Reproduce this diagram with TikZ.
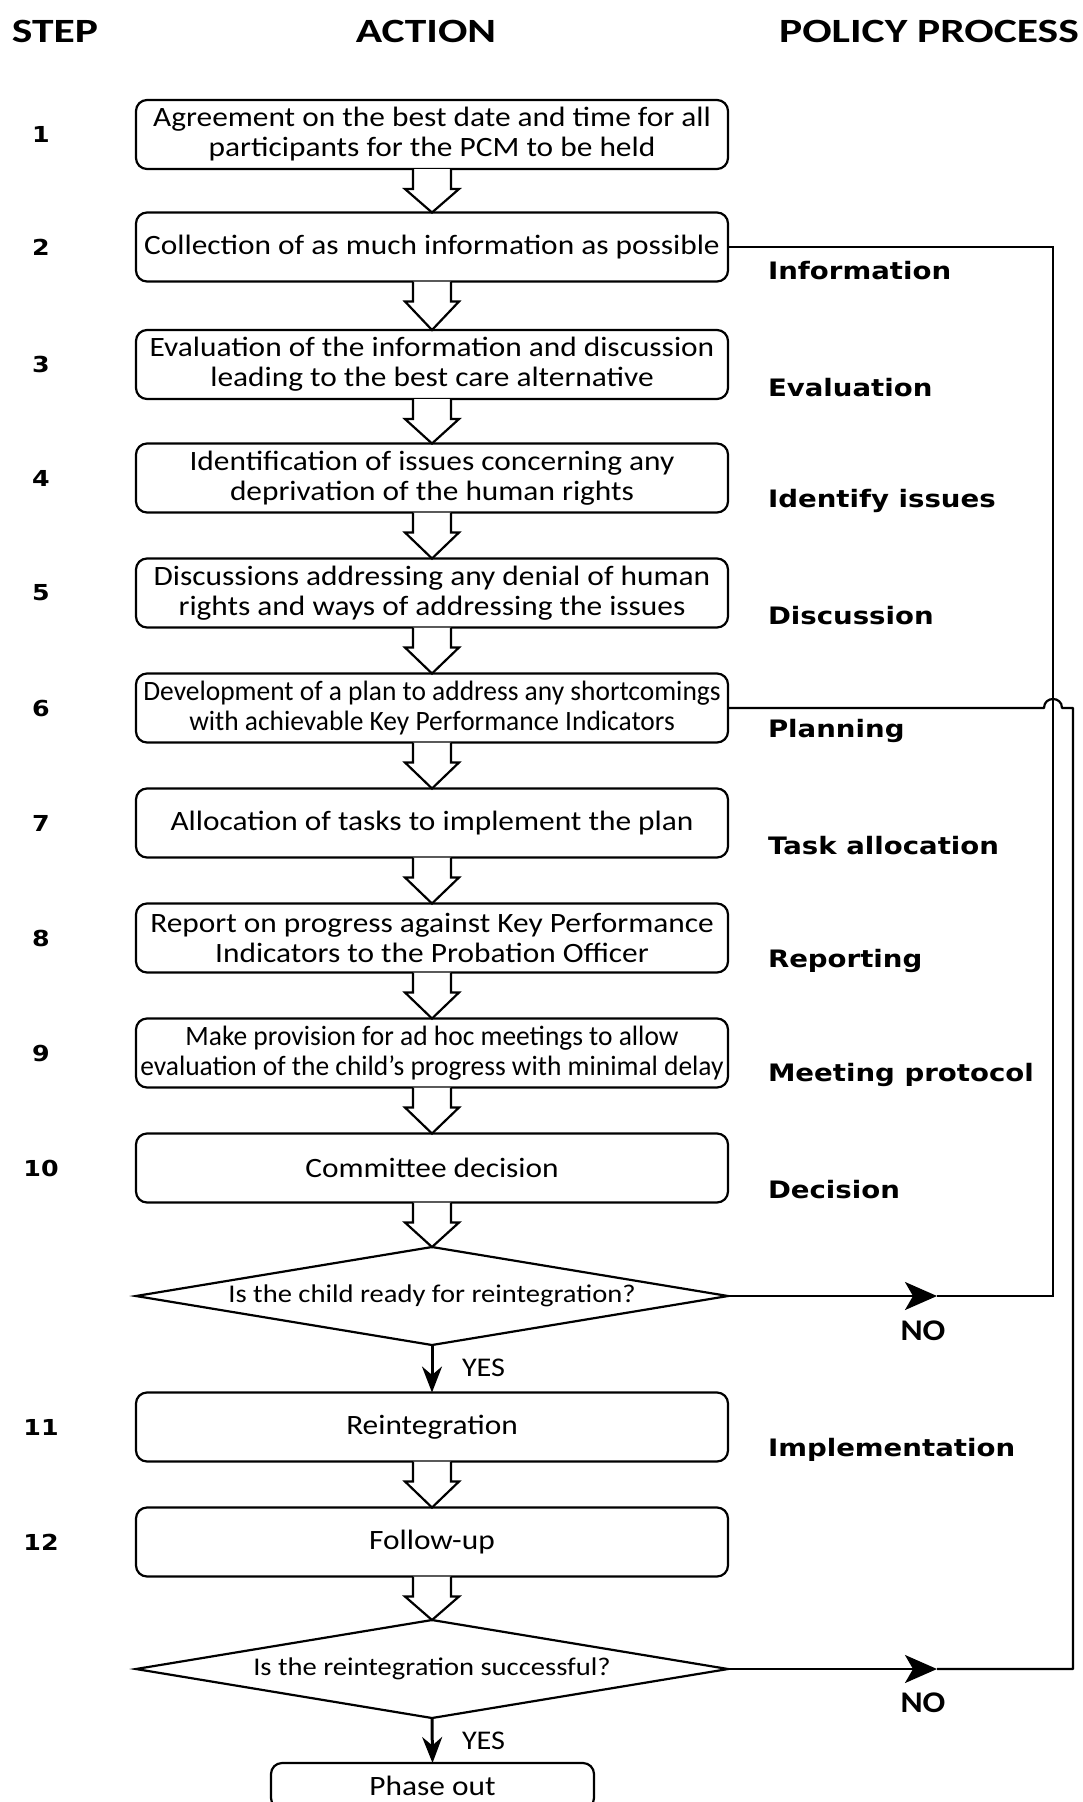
\documentclass[tikz,border=0pt]{standalone}
\usepackage{fontspec}
\setmainfont{Carlito}
\newfontfamily\verd{DejaVu Sans}
\usetikzlibrary{arrows.meta,calc,shapes.geometric}

% horizontally widened / narrowed single lines of text
\newcommand\wideline[1]{\scalebox{1.12}[1]{#1}}
\newcommand\narrowline[1]{\scalebox{0.98}[1]{#1}}
\newcommand\verdline[1]{\scalebox{1.15}[1]{#1}}

% hollow block arrow from the bottom of one box to the top of the next
\newcommand\blockarrow[2]{%
  \draw[barrow] ($(#1.south)+(-19,0)$) -- ++(0,20) -- ++(-8,0) -- (#2.north)
    -- ($(#1.south)+(27,20)$) -- ++(-8,0) -- ++(0,-20);}

\begin{document}
\begin{tikzpicture}[x=1pt,y=-1pt,
  every node/.style={inner sep=0pt, outer sep=0pt},
  stepbox/.style={draw, line width=2.2pt, rounded corners=11pt,
    minimum width=592pt, minimum height=69pt, align=center,
    font=\fontsize{28}{30}\selectfont},
  decision/.style={diamond, draw, line width=2.2pt, minimum width=592pt,
    minimum height=98pt},
  qtext/.style={font=\fontsize{25.5}{30}\selectfont},
  header/.style={font=\bfseries\fontsize{34}{40}\selectfont},
  stepnum/.style={font=\verd\bfseries\fontsize{22}{26}\selectfont},
  policy/.style={anchor=west, font=\verd\bfseries\fontsize{24}{28}\selectfont},
  answer/.style={font=\bfseries\fontsize{30}{34}\selectfont},
  yeslabel/.style={anchor=west, font=\fontsize{27}{30}\selectfont},
  barrow/.style={line width=2.2pt, line join=miter, fill=white},
  fb/.style={line width=2.2pt},
  yesarrow/.style={line width=3pt, -{Stealth[length=26pt,width=20pt]}},
  noarrow/.style={line width=2.2pt, -{Stealth[length=32pt,width=28pt,inset=8pt]}}
]
\useasboundingbox (0,0) rectangle (1083,1802);

% column headers
\node[header] (hstep) at (55,31) {\scalebox{1.28}[1]{STEP}};
\node[header] (hact) at (426,31) {\scalebox{1.28}[1]{ACTION}};
\node[header] (hpol) at (929,31) {\scalebox{1.28}[1]{POLICY PROCESS}};

% action boxes
\node[stepbox] (b1) at (432,134.5) {\wideline{Agreement on the best date and time for all}\\\wideline{participants for the PCM to be held}};
\node[stepbox] (b2) at (432,247) {\wideline{Collection of as much information as possible}};
\node[stepbox] (b3) at (432,364.5) {\wideline{Evaluation of the information and discussion}\\\wideline{leading to the best care alternative}};
\node[stepbox] (b4) at (432,478) {\wideline{Identification of issues concerning any}\\\wideline{deprivation of the human rights}};
\node[stepbox] (b5) at (432,593) {\wideline{Discussions addressing any denial of human}\\\wideline{rights and ways of addressing the issues}};
\node[stepbox] (b6) at (432,708) {\narrowline{Development of a plan to address any shortcomings}\\\narrowline{with achievable Key Performance Indicators}};
\node[stepbox] (b7) at (432,823) {\wideline{Allocation of tasks to implement the plan}};
\node[stepbox] (b8) at (432,938) {\wideline{Report on progress against Key Performance}\\\wideline{Indicators to the Probation Officer}};
\node[stepbox] (b9) at (432,1053) {\narrowline{Make provision for ad hoc meetings to allow}\\\narrowline{evaluation of the child’s progress with minimal delay}};
\node[stepbox] (b10) at (432,1168) {\wideline{Committee decision}};
\node[decision] (d1) at (432,1296) {};
\node[qtext] (q1) at (d1.center) {\wideline{Is the child ready for reintegration?}};
\node[stepbox] (b11) at (432,1427) {\wideline{Reintegration}};
\node[stepbox] (b12) at (432,1542) {\wideline{Follow-up}};
\node[decision] (d2) at (432,1669) {};
\node[qtext] (q2) at (d2.center) {\wideline{Is the reintegration successful?}};
\node[stepbox, minimum width=323pt, minimum height=46pt] (po) at (432.5,1786) {\wideline{Phase out}};

% step numbers
\foreach \n/\y in {1/134.5,2/247,3/364.5,4/478,5/593,6/708,7/823,8/938,9/1053,10/1168,11/1427,12/1542}
  \node[stepnum] (s\n) at (41,\y) {\verdline{\n}};

% policy process labels
\node[policy] (p2) at (768,271) {\verdline{Information}};
\node[policy] (p3) at (768,388) {\verdline{Evaluation}};
\node[policy] (p4) at (768,501) {\verdline{Identify issues}};
\node[policy] (p5) at (768,616) {\verdline{Discussion}};
\node[policy] (p6) at (768,731) {\verdline{Planning}};
\node[policy] (p7) at (768,846) {\verdline{Task allocation}};
\node[policy] (p8) at (768,961) {\verdline{Reporting}};
\node[policy] (p9) at (768,1075) {\verdline{Meeting protocol}};
\node[policy] (p10) at (768,1190) {\verdline{Decision}};
\node[policy] (p11) at (768,1450) {\verdline{Implementation}};

% flow between steps
\blockarrow{b1}{b2}
\blockarrow{b2}{b3}
\blockarrow{b3}{b4}
\blockarrow{b4}{b5}
\blockarrow{b5}{b6}
\blockarrow{b6}{b7}
\blockarrow{b7}{b8}
\blockarrow{b8}{b9}
\blockarrow{b9}{b10}
\blockarrow{b10}{d1}
\blockarrow{b11}{b12}
\blockarrow{b12}{d2}

\draw[yesarrow] (d1.south) -- (b11.north);
\draw[yesarrow] (d2.south) -- (po.north);
\node[yeslabel] (y1) at (462,1368) {\wideline{YES}};
\node[yeslabel] (y2) at (462,1741) {\wideline{YES}};

% loop back when the child is not ready
\coordinate (na) at (937,1296);
\coordinate (ca) at (1053,1296);
\draw[noarrow] (d1.east) -- (na);
\draw[fb] (na) -- (ca) |- (b2.east);
\node[answer] (no1) at (923,1331) {\wideline{NO}};

% loop back when reintegration fails, hopping over the first loop
\coordinate (nb) at (937,1669);
\coordinate (cb) at (1073,1669);
\coordinate (cb2) at (1073,708);
\coordinate (hopr) at (1062,708);
\coordinate (hopl) at (1044,708);
\draw[noarrow] (d2.east) -- (nb);
\draw[fb, line join=round] (nb) -- (cb) -- (cb2) -- (hopr)
  .. controls +(0,-12) and +(0,-12) .. (hopl) -- (b6.east);
\node[answer] (no2) at (923,1703) {\wideline{NO}};
\end{tikzpicture}
\end{document}
